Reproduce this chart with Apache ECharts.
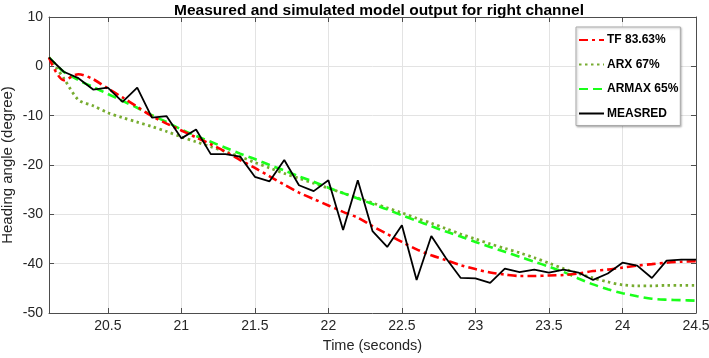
<!DOCTYPE html>
<html>
<head>
<meta charset="utf-8">
<script src="https://cdn.jsdelivr.net/npm/echarts@6/dist/echarts.min.js"></script>
<style>
  html, body { margin: 0; padding: 0; background: #fff; }
  #main { width: 709px; height: 358px; }
</style>
</head>
<body>
<div id="main"></div>
<script>
// time axis (seconds), one sample every 0.1 s
const time = [20.1, 20.2, 20.3, 20.4, 20.5, 20.6, 20.7, 20.8, 20.9, 21.0,
  21.1, 21.2, 21.3, 21.4, 21.5, 21.6, 21.7, 21.8, 21.9, 22.0,
  22.1, 22.2, 22.3, 22.4, 22.5, 22.6, 22.7, 22.8, 22.9, 23.0,
  23.1, 23.2, 23.3, 23.4, 23.5, 23.6, 23.7, 23.8, 23.9, 24.0,
  24.1, 24.2, 24.3, 24.4, 24.5];

const tf = [1.8, -2.8, -1.6, -2.6, -4.5, -6.3, -8.2, -10.1, -11.6, -13.0,
  -14.4, -15.8, -17.3, -19.0, -20.6, -22.3, -24.0, -25.6, -26.9, -28.2,
  -29.5, -30.7, -32.4, -34.0, -35.6, -37.1, -38.3, -39.3, -40.3, -41.1,
  -41.8, -42.2, -42.5, -42.5, -42.4, -42.3, -42.0, -41.5, -41.2, -40.8,
  -40.4, -40.1, -39.8, -39.6, -39.5];

const arx = [1.8, -2.4, -6.8, -8.0, -9.4, -10.4, -11.3, -12.2, -13.2, -14.3,
  -15.3, -16.3, -17.3, -18.3, -19.5, -20.6, -21.7, -22.7, -23.7, -24.7,
  -25.7, -26.7, -27.7, -28.7, -29.7, -30.8, -31.8, -32.9, -34.0, -35.0,
  -36.0, -36.9, -37.8, -38.8, -39.9, -41.0, -42.0, -42.9, -43.7, -44.3,
  -44.5, -44.5, -44.4, -44.4, -44.4];

const armax = [1.8, -1.1, -2.8, -4.2, -5.6, -7.0, -8.4, -9.9, -11.3, -12.8,
  -14.1, -15.3, -16.5, -17.7, -18.8, -20.0, -21.1, -22.3, -23.4, -24.6,
  -25.7, -26.8, -27.9, -29.0, -30.2, -31.3, -32.4, -33.5, -34.5, -35.6,
  -36.6, -37.6, -38.6, -39.6, -40.6, -41.7, -43.0, -44.2, -45.2, -46.0,
  -46.6, -47.1, -47.3, -47.4, -47.5];

const measured = [1.8, -1.1, -2.4, -4.7, -4.3, -7.2, -4.3, -10.4, -10.1, -14.6,
  -12.8, -17.8, -17.8, -18.3, -22.4, -23.3, -19.0, -24.1, -25.3, -23.1,
  -33.2, -23.1, -33.4, -36.6, -32.2, -43.3, -34.4, -38.9, -42.9, -43.0,
  -43.9, -41.0, -41.7, -41.2, -41.8, -41.2, -41.8, -43.3, -42.0, -39.8,
  -40.4, -42.9, -39.4, -39.2, -39.2];

const xTicks = [20.5, 21, 21.5, 22, 22.5, 23, 23.5, 24, 24.5];
const seriesNames = ['TF 83.63%', 'ARX 67%', 'ARMAX 65%', 'MEASRED'];

const pairs = (ys) => time.map((t, i) => [t, ys[i]]);

const axisColor = '#4d4d4d';
const gridColor = '#e3e3e3';
const font = 'Liberation Sans, Arial, sans-serif';

let myChart = echarts.init(document.getElementById('main'));

const baseX = {
  type: 'value',
  min: 20.1,
  max: 24.5,
  axisLine: { show: true, onZero: false, lineStyle: { color: axisColor, width: 1 } },
  axisTick: { show: true, inside: true, length: 5, customValues: xTicks, lineStyle: { color: axisColor } },
  axisLabel: { show: true, customValues: xTicks, color: '#262626', fontSize: 14, fontFamily: font, margin: 6,
    formatter: v => String(v) },
  splitLine: { show: true, lineStyle: { color: gridColor, width: 1 } }
};

const baseY = {
  type: 'value',
  min: -50,
  max: 10,
  interval: 10,
  axisLine: { show: true, onZero: false, lineStyle: { color: axisColor, width: 1 } },
  axisTick: { show: true, inside: true, length: 5, lineStyle: { color: axisColor } },
  axisLabel: { color: '#262626', fontSize: 14, fontFamily: font, margin: 6 },
  splitLine: { show: true, lineStyle: { color: gridColor, width: 1 } }
};

let option = {
  animation: false,
  backgroundColor: '#fff',
  title: {
    text: 'Measured and simulated model output for right channel',
    left: 374,
    textAlign: 'center',
    top: -2,
    textStyle: { fontSize: 15.5, fontWeight: 'bold', color: '#000', fontFamily: font }
  },
  grid: { left: 49, right: 13, top: 17, bottom: 45, containLabel: false, outerBoundsMode: 'none' },
  legend: {
    orient: 'vertical',
    left: 576,
    top: 27,
    itemWidth: 25,
    itemHeight: 10,
    itemGap: 12.5,
    padding: [7, 2, 6, 2],
    backgroundColor: '#fff',
    borderColor: '#aaa',
    borderWidth: 1,
    shadowColor: 'rgba(0,0,0,0.25)',
    shadowBlur: 2,
    shadowOffsetX: 1,
    shadowOffsetY: 1,
    itemStyle: { opacity: 0 },
    textStyle: { fontSize: 12, fontWeight: 'bold', color: '#000', fontFamily: font, padding: [0, 0, 0, -2] },
    data: seriesNames
  },
  xAxis: [
    Object.assign({}, baseX, {
      name: 'Time (seconds)',
      nameLocation: 'middle',
      nameGap: 25,
      nameMoveOverlap: false,
      nameTextStyle: { fontSize: 14.5, color: '#262626', fontFamily: font }
    }),
    Object.assign({}, baseX, {
      position: 'top',
      axisLabel: { show: false },
      splitLine: { show: false }
    })
  ],
  yAxis: [
    Object.assign({}, baseY, {
      name: 'Heading angle (degree)',
      nameLocation: 'middle',
      nameGap: 34,
      nameMoveOverlap: false,
      nameTextStyle: { fontSize: 15, color: '#262626', fontFamily: font }
    }),
    Object.assign({}, baseY, {
      position: 'right',
      axisLabel: { show: false },
      splitLine: { show: false }
    })
  ],
  series: [
    {
      name: seriesNames[0],
      type: 'line',
      data: pairs(tf),
      smooth: 0.3,
      symbol: 'none',
      z: 3,
      lineStyle: { color: '#ff0000', width: 2.6, type: [9, 4, 3, 4] },
      itemStyle: { color: '#ff0000' }
    },
    {
      name: seriesNames[1],
      type: 'line',
      data: pairs(arx),
      smooth: 0.3,
      symbol: 'none',
      z: 2,
      lineStyle: { color: '#77ac30', width: 2.8, type: [2.5, 3.5] },
      itemStyle: { color: '#77ac30' }
    },
    {
      name: seriesNames[2],
      type: 'line',
      data: pairs(armax),
      smooth: 0.3,
      symbol: 'none',
      z: 2,
      lineStyle: { color: '#1aff1a', width: 2.6, type: [9, 5] },
      itemStyle: { color: '#1aff1a' }
    },
    {
      name: seriesNames[3],
      type: 'line',
      data: pairs(measured),
      symbol: 'none',
      z: 4,
      lineStyle: { color: '#000000', width: 1.8, type: 'solid' },
      itemStyle: { color: '#000000' }
    }
  ]
};

option && myChart.setOption(option);
</script>
</body>
</html>
